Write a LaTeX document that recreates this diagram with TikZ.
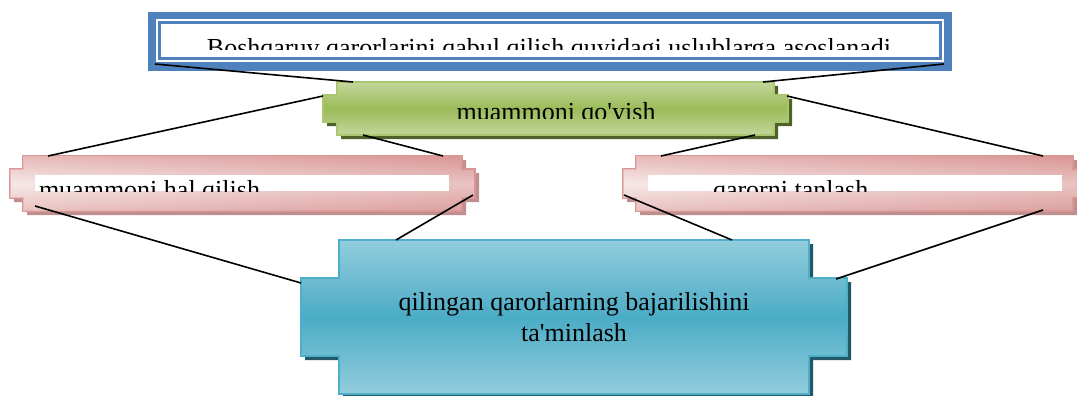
\documentclass[tikz,border=0pt]{standalone}
\usepackage{fontspec}
\setmainfont{Liberation Serif}
\definecolor{topblue}{HTML}{4F81BD}
\definecolor{greenlight}{HTML}{C3D69B}
\definecolor{greenmid}{HTML}{9BBB59}
\definecolor{greenedge}{HTML}{A9C76F}
\definecolor{greenshadow}{HTML}{4F6228}
\definecolor{pinkdark}{HTML}{D99694}
\definecolor{pinklight}{HTML}{F2DCDB}
\definecolor{pinkedge}{HTML}{D99694}
\definecolor{pinkshadow}{HTML}{BE8F8E}
\definecolor{bluelight}{HTML}{93CDDD}
\definecolor{bluemid}{HTML}{4BACC6}
\definecolor{blueedge}{HTML}{4FAFC8}
\definecolor{blueshadow}{HTML}{215968}
\newcommand\plaque[4]{%
  \path[#4] (#1.north west) -- (#1.north east) -- ([yshift=-#3pt]#1.north east)
    -- ([xshift=#2pt,yshift=-#3pt]#1.north east) -- ([xshift=#2pt,yshift=#3pt]#1.south east)
    -- ([yshift=#3pt]#1.south east) -- (#1.south east) -- (#1.south west)
    -- ([yshift=#3pt]#1.south west) -- ([xshift=-#2pt,yshift=#3pt]#1.south west)
    -- ([xshift=-#2pt,yshift=-#3pt]#1.north west) -- ([yshift=-#3pt]#1.north west) -- cycle;}
\begin{document}
\begin{tikzpicture}[x=1pt,y=-1pt,
  body/.style={rectangle,inner sep=0pt,outer sep=0pt,draw=none},
  label/.style={inner sep=0pt,outer sep=0pt,font=\fontsize{26}{31}\selectfont},
  conn/.style={draw=black,line width=1.6pt}]
\useasboundingbox (0,0) rectangle (1077,396);
% body nodes
\node[body,fill=topblue,minimum width=804pt,minimum height=59pt] (top) at (550,41.5) {};
\node[body,minimum width=437pt,minimum height=53pt] (green) at (555.5,108.5) {};
\node[body,minimum width=439pt,minimum height=55pt] (pinkL) at (242.5,183.5) {};
\node[body,minimum width=437pt,minimum height=55pt] (pinkR) at (854.5,183.5) {};
\node[body,minimum width=470pt,minimum height=154pt] (blue) at (574,317) {};
% top frame
\fill[white] ([xshift=8pt,yshift=-7pt]top.north west) rectangle ([xshift=-8pt,yshift=9pt]top.south east);
\draw[topblue,line width=2.6pt] ([xshift=11.5pt,yshift=-10.5pt]top.north west) rectangle ([xshift=-11.5pt,yshift=12.5pt]top.south east);
\begin{scope}
  \clip (162,25) rectangle (938,50);
  \node[label,anchor=base] (toptext) at (549,57) {Boshqaruv qarorlarini qabul qilish quyidagi uslublarga asoslanadi};
\end{scope}
% green plaque
\plaque{green}{14}{13}{fill=greenshadow,transform canvas={xshift=4pt,yshift=-4pt}}
\plaque{green}{14}{13}{top color=greenlight,bottom color=greenlight,middle color=greenmid,draw=greenedge,line width=1.5pt}
\begin{scope}
  \clip (340,86) rectangle (772,118.5);
  \node[label,anchor=base] (greentext) at (556,121) {muammoni qo\textquotesingle yish};
\end{scope}
% pink plaques
\plaque{pinkL}{13}{13}{fill=pinkshadow,transform canvas={xshift=4pt,yshift=-4pt}}
\plaque{pinkL}{13}{13}{top color=pinkdark,bottom color=pinkdark!80!pinklight,middle color=pinklight,draw=pinkedge,line width=1.5pt}
\plaque{pinkL}{13}{13}{left color=white,right color=pinkdark,opacity=0.35}
\plaque{pinkR}{13}{13}{fill=pinkshadow,transform canvas={xshift=4pt,yshift=-4pt}}
\plaque{pinkR}{13}{13}{top color=pinkdark,bottom color=pinkdark!80!pinklight,middle color=pinklight,draw=pinkedge,line width=1.5pt}
\plaque{pinkR}{13}{13}{left color=white,right color=pinkdark,opacity=0.35}
\begin{scope}
  \clip (35,175) rectangle (449,191);
  \fill[white] (35,175) rectangle (449,191);
  \node[label,anchor=base west] (pinkLtext) at (39,198) {muammoni hal qilish};
\end{scope}
\begin{scope}
  \clip (648,175) rectangle (1062,191);
  \fill[white] (648,175) rectangle (1062,191);
  \node[label,anchor=base west] (pinkRtext) at (713,198) {qarorni tanlash};
\end{scope}
% blue plaque
\plaque{blue}{38}{38}{fill=blueshadow,transform canvas={xshift=4pt,yshift=-4pt}}
\plaque{blue}{38}{38}{top color=bluelight,bottom color=bluelight,middle color=bluemid,draw=blueedge,line width=2pt}
\node[label,anchor=base] (bluetext) at (574,310) {\begin{tabular}[t]{@{}c@{}}qilingan qarorlarning bajarilishini\\ta\textquotesingle minlash\end{tabular}};
% connectors
\draw[conn] ([xshift=7pt,yshift=7pt]top.south west) -- ([xshift=16pt]green.north west);
\draw[conn] ([xshift=-8pt,yshift=7pt]top.south east) -- ([xshift=-11pt]green.north east);
\draw[conn] ([xshift=-14pt,yshift=-14pt]green.north west) -- ([xshift=25pt]pinkL.north west);
\draw[conn] ([xshift=13pt,yshift=-14pt]green.north east) -- ([xshift=-30pt]pinkR.north east);
\draw[conn] ([xshift=26pt]green.south west) -- ([xshift=-19pt]pinkL.north east);
\draw[conn] ([xshift=-19pt]green.south east) -- ([xshift=25pt]pinkR.north west);
\draw[conn] ([xshift=12pt,yshift=5pt]pinkL.south west) -- ([xshift=-38pt,yshift=-43pt]blue.north west);
\draw[conn] ([xshift=11pt,yshift=-39pt]pinkL.north east) -- ([xshift=57pt]blue.north west);
\draw[conn] ([xshift=-12pt,yshift=-39pt]pinkR.north west) -- ([xshift=-77pt]blue.north east);
\draw[conn] ([xshift=-30pt,yshift=1pt]pinkR.south east) -- ([xshift=27pt,yshift=-39pt]blue.north east);
\end{tikzpicture}
\end{document}
